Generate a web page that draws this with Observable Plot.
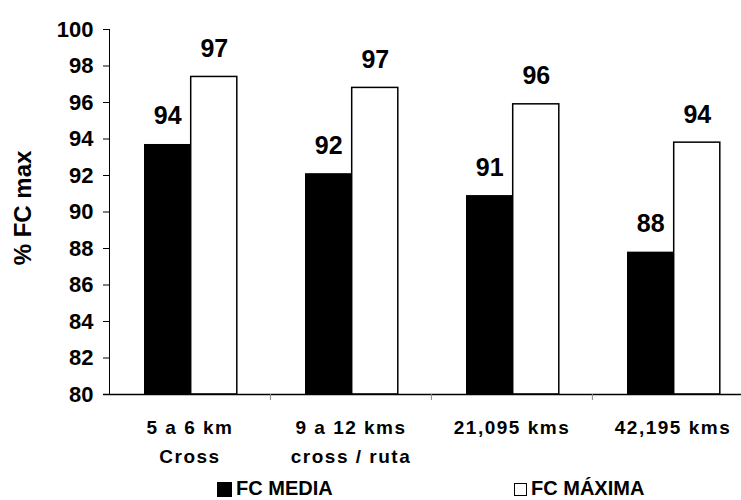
<!DOCTYPE html>
<html>
<head>
<meta charset="utf-8">
<script src="https://cdn.jsdelivr.net/npm/d3@7"></script>
<script src="https://cdn.jsdelivr.net/npm/@observablehq/plot@0.6"></script>
<style>
  html, body { margin: 0; padding: 0; background: #fff; }
  #wrap { position: relative; width: 741px; height: 500px; overflow: hidden; font-family: "Liberation Sans", Arial, sans-serif; font-weight: bold; }
  #legend { position: absolute; left: 0; top: 476px; width: 741px; height: 24px; }
  .item { position: absolute; top: 2px; height: 20px; display: flex; align-items: center; font-size: 20px; line-height: 20px; color: #000; }
  .sw { display: inline-block; margin-right: 4px; margin-top: 3px; box-sizing: border-box; }
</style>
</head>
<body>
<div id="wrap">
  <div id="chart"></div>
  <div id="legend"></div>
</div>
<script>
// ---- data ----
const categories = ["5 a 6 km\nCross", "9 a 12 kms\ncross / ruta", "21,095 kms", "42,195 kms"];
const seriesNames = ["FC MEDIA", "FC MÁXIMA"];
const fcMedia = [93.7, 92.1, 90.9, 87.8];
const fcMaxima = [97.4, 96.8, 95.9, 93.8];
const yTicks = [80, 82, 84, 86, 88, 90, 92, 94, 96, 98, 100];
const yDomain = [80, 100];
const yLabel = "% FC max";

const media = categories.map((c, i) => ({cat: c, value: fcMedia[i]}));
const maxima = categories.map((c, i) => ({cat: c, value: fcMaxima[i]}));

const font = "'Liberation Sans', Arial, sans-serif";
const band = 161.2;

const chart = Plot.plot({
  width: 741,
  height: 476,
  marginLeft: 109,
  marginRight: 0,
  marginTop: 29,
  marginBottom: 82,
  style: {fontFamily: font, fontWeight: "bold", fontSize: "21px", color: "#000", background: "#fff", overflow: "hidden"},
  x: {domain: categories, range: [109, 109 + 4 * band], padding: 0, axis: null},
  y: {domain: yDomain, ticks: yTicks, tickSize: 6, tickPadding: 10, label: null, line: true, tickFormat: d => String(d)},
  marks: [
    Plot.barY(media, {x: "cat", y1: yDomain[0], y2: "value", fill: "#000", insetLeft: 35, insetRight: band - 81.7}),
    Plot.barY(maxima, {x: "cat", y1: yDomain[0], y2: "value", fill: "#fff", stroke: "#000", strokeWidth: 1.5, insetLeft: 81.7, insetRight: band - 128}),
    Plot.ruleY([yDomain[0]], {stroke: "#000", strokeWidth: 1.5, insetLeft: -6}),
    Plot.ruleX(categories.slice(1), {x: d => d, dx: -band / 2, y1: yDomain[0], y2: yDomain[0] - 0.33, stroke: "#888"}),
    Plot.text(media, {x: "cat", y: "value", text: d => String(Math.round(d.value)), dx: -22.3, dy: -28, fontSize: 25, fontWeight: "bold", fill: "#000"}),
    Plot.text(maxima, {x: "cat", y: "value", text: d => String(Math.round(d.value)), dx: 24.3, dy: -28, fontSize: 25, fontWeight: "bold", fill: "#000"}),
    Plot.text(categories, {x: d => d, y: yDomain[0], text: d => d, lineAnchor: "top", dy: 18.5, lineHeight: 1.55, fontSize: 19, fontWeight: "bold", fill: "#000"}),
    Plot.text([yLabel], {frameAnchor: "left", textAnchor: "middle", text: d => d, rotate: -90, dx: -86, dy: -4, fontSize: 24, fontWeight: "bold", fill: "#000"})
  ]
});
document.getElementById("chart").appendChild(chart);
// letter spacing for category labels (spaced-out look of the original)
const flatCats = categories.map(c => c.replace(/\n/g, ""));
chart.querySelectorAll("text").forEach(t => {
  if (flatCats.includes(t.textContent)) t.style.letterSpacing = "1.5px";
});
// larger y tick labels
chart.querySelectorAll('g[aria-label^="y-axis"] text').forEach(t => {
  t.style.fontSize = "22px";
});
// gray y-axis line
chart.querySelectorAll('g[aria-label="y-axis"] path.domain, g[aria-label="y-axis line"] line, g[aria-label="y-axis"] > line').forEach(el => {
  el.setAttribute("stroke", "#808080");
});
// legend
const legend = document.getElementById("legend");
const items = [
  {name: seriesNames[0], left: 217, sw: "width:15px;height:15px;background:#000;"},
  {name: seriesNames[1], left: 514, sw: "width:13px;height:13px;background:#fff;border:1.5px solid #000;"}
];
items.forEach(it => {
  const d = document.createElement("div");
  d.className = "item";
  d.style.left = it.left + "px";
  d.innerHTML = `<span class="sw" style="${it.sw}"></span><span>${it.name}</span>`;
  legend.appendChild(d);
});
</script>
</body>
</html>
